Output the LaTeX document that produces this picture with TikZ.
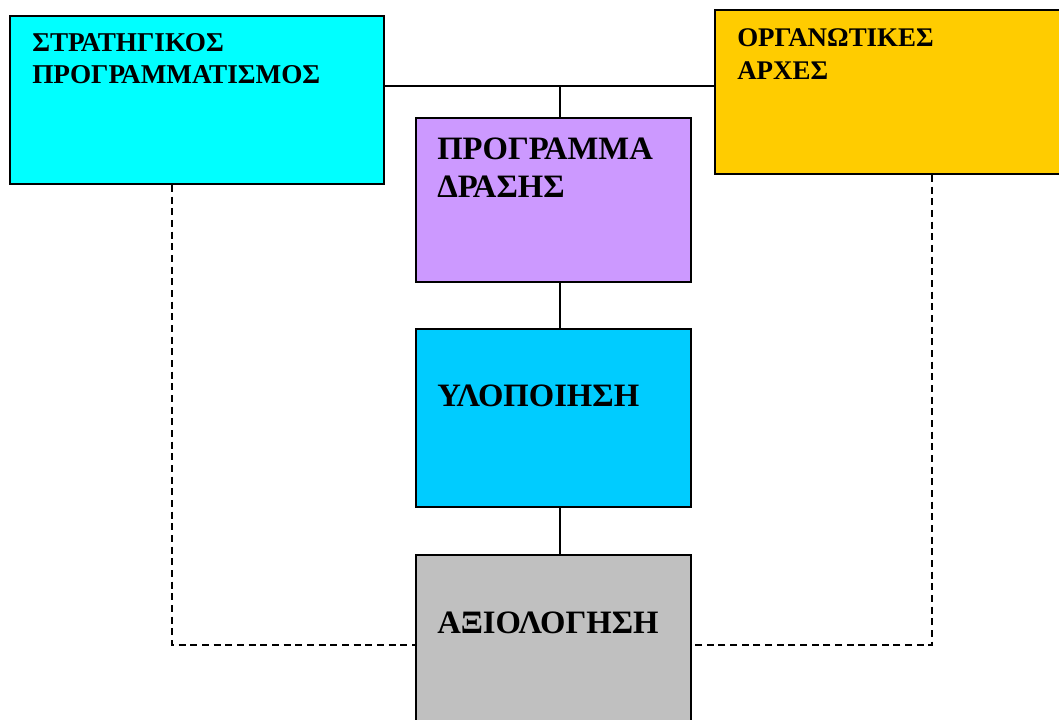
\documentclass[tikz,border=0pt]{standalone}
\usepackage{fontspec}
\setmainfont{Liberation Serif}
\definecolor{cstrat}{HTML}{00FFFF}
\definecolor{corg}{HTML}{FFCC00}
\definecolor{cprog}{HTML}{CC99FF}
\definecolor{cylo}{HTML}{00CCFF}
\definecolor{caxi}{HTML}{C0C0C0}
\tikzset{
  box/.style={draw=black, line width=1.5pt, rectangle, inner sep=0pt},
  lbl/.style={anchor=north west, inner sep=0pt, align=left, font=\bfseries},
  conn/.style={draw=black, line width=1.1pt},
  dconn/.style={draw=black, line width=1.1pt, dash pattern=on 5.25pt off 3.5pt}
}
\begin{document}
\begin{tikzpicture}[x=0.75pt,y=-0.75pt]
\useasboundingbox (0,0) rectangle (1059,720);
% boxes
\node[box, fill=cstrat, minimum width=280.5pt, minimum height=126pt] (strat) at (197,100) {};
\node[box, fill=corg, minimum width=262.5pt, minimum height=123pt] (org) at (890,92) {};
\node[box, fill=cprog, minimum width=206.25pt, minimum height=123pt] (prog) at (553.5,200) {};
\node[box, fill=cylo, minimum width=206.25pt, minimum height=133.5pt] (ylo) at (553.5,418) {};
\node[box, fill=caxi, minimum width=206.25pt, minimum height=135pt] (axi) at (553.5,645) {};
% labels
\node[lbl, font=\bfseries\fontsize{20.4pt}{24pt}\selectfont] (stratT) at (32,33) {ΣΤΡΑΤΗΓΙΚΟΣ\\ΠΡΟΓΡΑΜΜΑΤΙΣΜΟΣ};
\node[lbl, font=\bfseries\fontsize{20.2pt}{25pt}\selectfont] (orgT) at (737,28) {ΟΡΓΑΝΩΤΙΚΕΣ\\ΑΡΧΕΣ};
\node[lbl, font=\bfseries\fontsize{24.5pt}{28pt}\selectfont] (progT) at (437,138) {ΠΡΟΓΡΑΜΜΑ\\ΔΡΑΣΗΣ};
\node[lbl, font=\bfseries\fontsize{24.5pt}{28pt}\selectfont] (yloT) at (437,385) {ΥΛΟΠΟΙΗΣΗ};
\node[lbl, font=\bfseries\fontsize{24.5pt}{28pt}\selectfont] (axiT) at (437,612) {ΑΞΙΟΛΟΓΗΣΗ};
% connectors
\coordinate (j) at (560,86);
\coordinate (dl) at (172,645);
\coordinate (dr) at (932,645);
\draw[conn] (strat.east |- j) -- (org.west |- j);
\draw[conn] (j) -- (j |- prog.north);
\draw[conn] (prog.south -| j) -- (ylo.north -| j);
\draw[conn] (ylo.south -| j) -- (axi.north -| j);
\draw[dconn] (strat.south -| dl) -- (dl) -- (axi.west |- dl);
\draw[dconn] (org.south -| dr) -- (dr) -- (axi.east |- dr);
\end{tikzpicture}
\end{document}
